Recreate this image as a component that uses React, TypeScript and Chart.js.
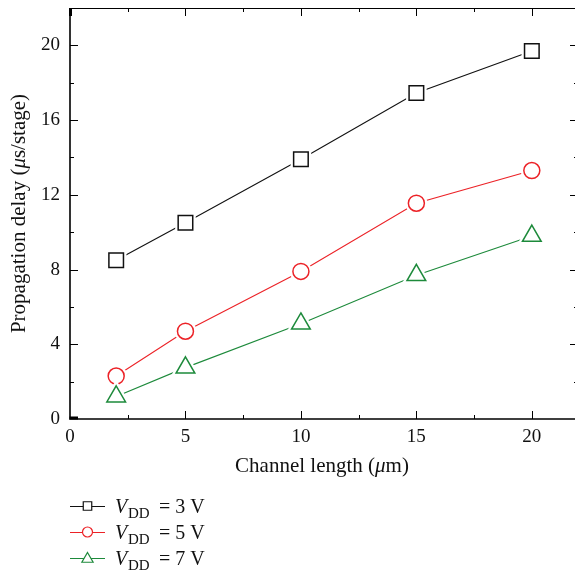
import React, { useEffect, useRef } from "react";
import { Chart, registerables } from "chart.js";
import { drawPoint } from "chart.js/helpers";

Chart.register(...registerables);

const channelLength = [2, 5, 10, 15, 20];
const delay3V = [8.5, 10.5, 13.9, 17.45, 19.7];
const delay5V = [2.3, 4.7, 7.9, 11.55, 13.3];
const delay7V = [1.2, 2.75, 5.1, 7.7, 9.8];
const seriesLabels = ["3", "5", "7"];
const xMajorTicks = [0, 5, 10, 15, 20];
const yMajorTicks = [0, 4, 8, 12, 16, 20];

const BLACK = "#111111";
const RED = "#ec2227";
const GREEN = "#1d8a3b";
const SERIF = "'Liberation Serif', 'DejaVu Serif', serif";

const framePlugin = {
  id: "frame",
  beforeDatasetsDraw(chart: any) {
    const { ctx, chartArea: a, scales } = chart;
    const xs = scales.x, ys = scales.y;
    ctx.save();
    ctx.strokeStyle = "#000";
    ctx.lineWidth = 1;
    ctx.beginPath();
    ctx.moveTo(a.left, a.top + 0.5);
    ctx.lineTo(a.right, a.top + 0.5);
    ctx.stroke();
    ctx.lineWidth = 1.6;
    ctx.beginPath();
    ctx.moveTo(a.left, a.top);
    ctx.lineTo(a.left, a.bottom);
    ctx.lineTo(a.right, a.bottom);
    ctx.stroke();
    ctx.lineWidth = 3;
    ctx.beginPath();
    ctx.moveTo(a.left - 0.5, a.bottom - 1);
    ctx.lineTo(a.left + 8, a.bottom - 1);
    ctx.moveTo(a.left + 0.5, a.top);
    ctx.lineTo(a.left + 0.5, a.top + 8);
    ctx.stroke();
    ctx.lineWidth = 1;
    for (let v = 2.5; v <= 22; v += 2.5) {
      const px = Math.round(xs.getPixelForValue(v)) + 0.5;
      const major = v % 5 === 0;
      const len = major ? 8 : 4;
      ctx.beginPath();
      ctx.moveTo(px, a.bottom);
      ctx.lineTo(px, a.bottom - len);
      ctx.moveTo(px, a.top);
      ctx.lineTo(px, a.top + len);
      ctx.stroke();
    }
    for (let v = 2; v <= 22; v += 2) {
      const py = Math.round(ys.getPixelForValue(v)) + 0.5;
      const major = v % 4 === 0;
      const len = major ? 8 : 4;
      ctx.beginPath();
      ctx.moveTo(a.left, py);
      ctx.lineTo(a.left + len, py);
      ctx.moveTo(a.right, py);
      ctx.lineTo(a.right - len, py);
      ctx.stroke();
    }
    ctx.restore();
  },
  afterDatasetsDraw(chart: any) {
    const { ctx } = chart;
    chart.data.datasets.forEach((ds: any, i: number) => {
      const meta = chart.getDatasetMeta(i);
      meta.data.forEach((pt: any) => {
        ctx.save();
        ctx.fillStyle = "#fff";
        ctx.strokeStyle = "#fff";
        ctx.lineWidth = 6;
        drawPoint(ctx, { pointStyle: ds.pointStyle, radius: ds.pointRadius, borderWidth: 6 } as any, pt.x, pt.y);
        ctx.restore();
        ctx.save();
        ctx.fillStyle = "#fff";
        ctx.strokeStyle = ds.borderColor;
        ctx.lineWidth = ds.pointBorderWidth;
        drawPoint(ctx, { pointStyle: ds.pointStyle, radius: ds.pointRadius, borderWidth: ds.pointBorderWidth } as any, pt.x, pt.y);
        ctx.restore();
      });
    });
  },
  afterDraw(chart: any) {
    const { ctx, chartArea: a } = chart;
    ctx.save();
    ctx.fillStyle = "#111";
    const drawParts = (ps: [string, string][], cx: number, cy: number) => {
      let total = 0;
      ps.forEach(([t, f]) => { ctx.font = f; total += ctx.measureText(t).width; });
      let x = cx - total / 2;
      ctx.textBaseline = "alphabetic";
      ctx.textAlign = "left";
      ps.forEach(([t, f]) => { ctx.font = f; ctx.fillText(t, x, cy); x += ctx.measureText(t).width; });
    };
    drawParts([
      ["Channel length (", `21px ${SERIF}`],
      ["\u03bc", `italic 21px ${SERIF}`],
      ["m)", `21px ${SERIF}`],
    ], 322, 472);
    ctx.save();
    ctx.translate(25, (a.top + a.bottom) / 2);
    ctx.rotate(-Math.PI / 2);
    drawParts([
      ["Propagation delay (", `21px ${SERIF}`],
      ["\u03bc", `italic 21px ${SERIF}`],
      ["s/stage)", `21px ${SERIF}`],
    ], 0, 0);
    ctx.restore();

    const rows = [506, 532, 558];
    chart.data.datasets.forEach((ds: any, i: number) => {
      const cy = rows[i];
      ctx.strokeStyle = ds.borderColor;
      ctx.lineWidth = 1.2;
      ctx.beginPath();
      ctx.moveTo(70, cy + 0.5);
      ctx.lineTo(105, cy + 0.5);
      ctx.stroke();
      ctx.fillStyle = "#fff";
      const r = ds.pointStyle === "rect" ? 6 : ds.pointStyle === "circle" ? 5 : 6.5;
      drawPoint(ctx, { pointStyle: ds.pointStyle, radius: r, borderWidth: 1.3 } as any, 87.5, cy + (ds.pointStyle === "triangle" ? 1 : 0));
      ctx.fillStyle = "#111";
      ctx.textAlign = "left";
      ctx.font = `italic 20px ${SERIF}`;
      ctx.fillText("V", 115, cy + 7);
      ctx.font = `15px ${SERIF}`;
      ctx.fillText("DD", 128, cy + 12);
      ctx.font = `20px ${SERIF}`;
      ctx.fillText("= " + seriesLabels[i] + " V", 159, cy + 7);
    });
    ctx.restore();
  },
};

const zeroPad = (s: any) => {
  s.paddingLeft = 0;
  s.paddingRight = 0;
  s.paddingTop = 0;
  s.paddingBottom = 0;
};

export default function App() {
  const ref = useRef<HTMLCanvasElement | null>(null);
  useEffect(() => {
    document.body.style.margin = "0";
    document.body.style.overflow = "hidden";
    const mk = (label: string, data: number[], color: string, style: string, radius: number) => ({
      label,
      data: channelLength.map((x, i) => ({ x, y: data[i] })),
      borderColor: color,
      backgroundColor: "#fff",
      borderWidth: 1.1,
      pointStyle: style,
      pointRadius: radius,
      pointBorderWidth: 1.5,
      pointBackgroundColor: "#fff",
      pointBorderColor: color,
      pointHoverRadius: radius,
    });
    const chart = new Chart(ref.current!, {
      type: "line",
      data: {
        datasets: [
          mk("VDD = 3 V", delay3V, BLACK, "rect", 10.3),
          mk("VDD = 5 V", delay5V, RED, "circle", 8),
          mk("VDD = 7 V", delay7V, GREEN, "triangle", 10.8),
        ] as any,
      },
      options: {
        animation: false,
        responsive: false,
        events: [],
        layout: { autoPadding: false, padding: { top: 8, right: 0, left: 0, bottom: 0 } },
        plugins: { legend: { display: false }, tooltip: { enabled: false } },
        scales: {
          x: {
            type: "linear",
            min: 0,
            max: 22,
            afterFit: (s: any) => { s.height = 154; zeroPad(s); },
            afterBuildTicks: (s: any) => { s.ticks = xMajorTicks.map((v) => ({ value: v })); },
            grid: { display: false, drawTicks: false },
            border: { display: false },
            ticks: { padding: 7, color: "#111", font: { family: SERIF, size: 19 }, maxRotation: 0 },
          },
          y: {
            type: "linear",
            min: 0,
            max: 22,
            afterFit: (s: any) => { s.width = 70; zeroPad(s); },
            afterBuildTicks: (s: any) => { s.ticks = yMajorTicks.map((v) => ({ value: v })); },
            grid: { display: false, drawTicks: false },
            border: { display: false },
            ticks: { padding: 10, color: "#111", font: { family: SERIF, size: 19 } },
          },
        },
      },
      plugins: [framePlugin],
    });
    return () => chart.destroy();
  }, []);
  return (
    <div style={{ position: "fixed", left: 0, top: 0, width: 580, height: 573, overflow: "hidden" }}>
      <canvas ref={ref} width={578} height={573} style={{ display: "block" }} />
    </div>
  );
}
